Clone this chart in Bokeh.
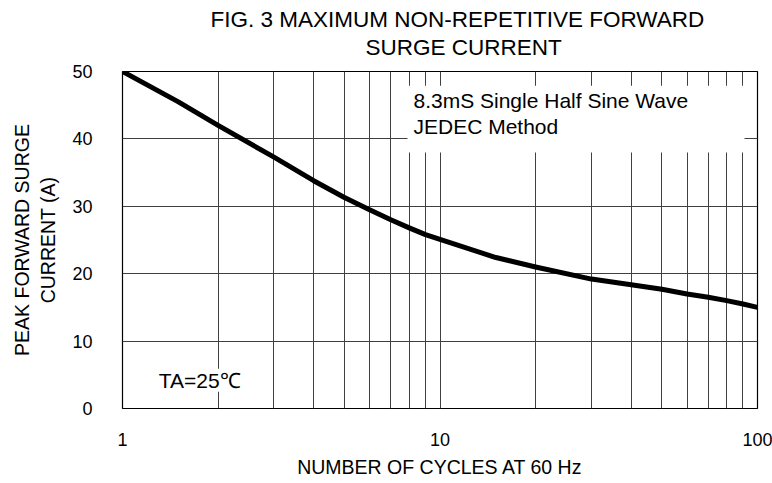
from bokeh.plotting import figure
from bokeh.models import Range1d, FixedTicker, Label, BoxAnnotation, LogAxis
from bokeh.embed import file_html
from bokeh.resources import INLINE

# data
cycles = [1, 1.5, 2, 3, 4, 5, 6, 7, 8, 9, 10, 15, 20, 30, 40, 50, 60, 70, 80, 90, 100]
current = [50, 45.5, 42.0, 37.3, 33.8, 31.3, 29.5, 28.0, 26.8, 25.8, 25.1, 22.4, 21.0,
           19.2, 18.35, 17.7, 17.0, 16.5, 16.0, 15.5, 15.0]

x_major = [1, 10, 100]
x_tick_labels = ["1", "10", "100"]
x_minor = [2, 3, 4, 5, 6, 7, 8, 9, 20, 30, 40, 50, 60, 70, 80, 90]
y_ticks = [0, 10, 20, 30, 40, 50]

title_line1 = "FIG. 3 MAXIMUM  NON-REPETITIVE FORWARD"
title_line2 = "SURGE CURRENT"
title_line2_at = 11.86   # x position (cycles) the second title line is centred on
x_label = "NUMBER OF CYCLES AT 60 Hz"
y_label = "PEAK FORWARD SURGE\nCURRENT (A)"
note_text = "8.3mS Single Half Sine Wave\nJEDEC Method"
temp_text = "TA=25\u2103"

FONT = "Liberation Sans"

p = figure(width=772, height=483, x_axis_type="log",
           x_range=Range1d(1, 100), y_range=Range1d(0, 50),
           output_backend="svg", toolbar_location=None,
           min_border_left=122, min_border_right=15,
           min_border_top=71, min_border_bottom=75,
           background_fill_color="white", border_fill_color="white")

bottom_axis = p.below[0]
left_axis = p.left[0]

# first title line: the figure title (outermost)
p.title.text = title_line1
p.title.text_font = FONT
p.title.text_font_size = "22.5px"
p.title.text_font_style = "normal"
p.title.align = "left"
p.title.offset = 88
p.title.standoff = 0
p.title.text_color = "black"

# second title line: an unstyled top axis carrying a single label
top_axis = LogAxis(ticker=FixedTicker(ticks=[title_line2_at]),
                   major_label_overrides={title_line2_at: title_line2})
p.add_layout(top_axis, "above")

p.outline_line_color = "black"
p.outline_line_width = 1.2

bottom_axis.ticker = FixedTicker(ticks=x_major, minor_ticks=x_minor)
bottom_axis.major_label_overrides = {t: s for t, s in zip(x_major, x_tick_labels)}
left_axis.ticker = FixedTicker(ticks=y_ticks)

for ax in (bottom_axis, top_axis, left_axis):
    ax.axis_line_color = None
    ax.major_tick_line_color = None
    ax.minor_tick_line_color = None
    ax.major_tick_in = 0
    ax.major_tick_out = 0
    ax.minor_tick_in = 0
    ax.minor_tick_out = 0
    ax.major_label_text_font = FONT
    ax.major_label_text_font_size = "18px"
    ax.major_label_text_color = "black"
    ax.axis_label_text_font = FONT
    ax.axis_label_text_font_style = "normal"
    ax.axis_label_text_font_size = "19.5px"
    ax.axis_label_text_color = "black"

top_axis.major_label_text_font_size = "22.5px"
top_axis.major_label_standoff = 12

bottom_axis.axis_label = x_label
bottom_axis.major_label_standoff = 24
bottom_axis.axis_label_standoff = 7
left_axis.axis_label = y_label
left_axis.major_label_standoff = 30
left_axis.axis_label_standoff = 10

p.xgrid.grid_line_color = "#404040"
p.xgrid.grid_line_width = 1
p.xgrid.minor_grid_line_color = "#404040"
p.xgrid.minor_grid_line_width = 1
p.ygrid.grid_line_color = "#404040"
p.ygrid.grid_line_width = 1

p.line(cycles, current, line_color="black", line_width=5, line_join="round", line_cap="round")

# white box behind the method note
p.add_layout(BoxAnnotation(left=7.9, right=91, bottom=38.0, top=47.9,
                           fill_color="white", fill_alpha=1, line_color=None))
p.add_layout(Label(x=8.25, y=47.35, text=note_text, text_baseline="top",
                   text_font=FONT, text_font_size="21px", text_color="black",
                   text_line_height=1.12))
p.add_layout(Label(x=1.3, y=4.2, text=temp_text, text_baseline="alphabetic",
                   text_font=FONT, text_font_size="21px", text_color="black",
                   background_fill_color="white", background_fill_alpha=1))

open("out.html", "w").write(file_html(p, INLINE))
